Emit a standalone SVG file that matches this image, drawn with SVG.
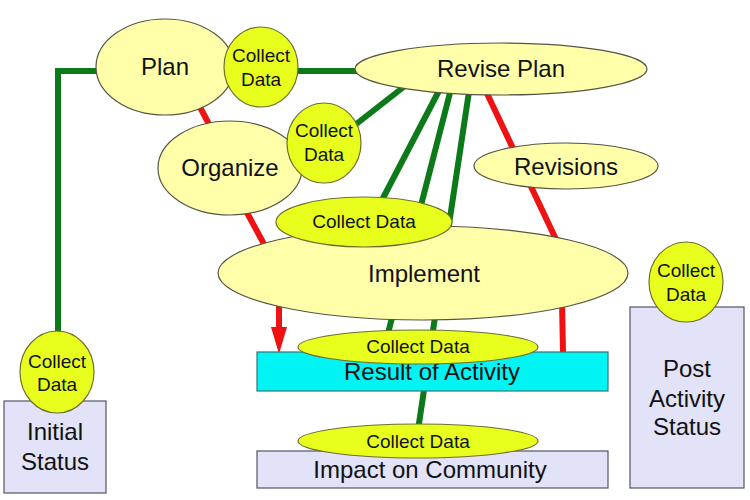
<svg xmlns="http://www.w3.org/2000/svg" width="750" height="500" viewBox="0 0 750 500">
<style>
  .step { fill: #FFFFAA; stroke: #555544; stroke-width: 1.2; }
  .cd { fill: #E8FF1E; stroke: #6E6E30; stroke-width: 1.2; }
  .box { fill: #E2E2F8; stroke: #555566; stroke-width: 1.2; }
  .res { fill: #00F4F4; stroke: #337777; stroke-width: 1.2; }
  text { font-family: "Liberation Sans", Arial, sans-serif; fill: #111; text-anchor: middle; }
  .big { font-size: 24px; }
  .sm { font-size: 19px; }
  .g { stroke: #0C7A18; stroke-width: 6; fill: none; }
  .r { stroke: #F01212; stroke-width: 6; fill: none; }
</style>
<rect width="750" height="500" fill="#ffffff"/>
<g id="connectors">
  <path class="g" d="M380,71 H58 V340"/>
  <path class="g" d="M410,82 L355,125"/>
  <path class="g" d="M442,85 L382,200"/>
  <path class="g" d="M452,85 L385,345"/>
  <path class="g" d="M470,85 L418,430"/>
  <path class="r" d="M192,92 L220,145"/>
  <path class="r" d="M240,200 L270,255"/>
  <path class="r" d="M483,85 L561,250 L563,352"/>
  <path class="r" d="M279,295 V330" stroke-width="5"/>
  <polygon points="271,327 287,327 279,354" fill="#F01212"/>
</g>
<g id="plan">
  <ellipse class="step" cx="165" cy="67" rx="69" ry="48"/>
  <text class="big" x="165" y="75">Plan</text>
</g>
<g id="plan-collect">
  <ellipse class="cd" cx="261" cy="67" rx="37" ry="40"/>
  <text class="sm" x="261" y="62">Collect</text>
  <text class="sm" x="261" y="86">Data</text>
</g>
<g id="revise-plan">
  <ellipse class="step" cx="501" cy="69" rx="146" ry="26"/>
  <text class="big" x="501" y="77">Revise Plan</text>
</g>
<g id="organize">
  <ellipse class="step" cx="230" cy="168" rx="72" ry="47"/>
  <text class="big" x="230" y="176">Organize</text>
</g>
<g id="organize-collect">
  <ellipse class="cd" cx="324" cy="143" rx="37" ry="40"/>
  <text class="sm" x="324" y="137">Collect</text>
  <text class="sm" x="324" y="161">Data</text>
</g>
<g id="revisions">
  <ellipse class="step" cx="566" cy="166" rx="92" ry="23"/>
  <text class="big" x="566" y="175">Revisions</text>
</g>
<g id="implement">
  <ellipse class="step" cx="423" cy="273" rx="205" ry="47"/>
  <text class="big" x="424" y="282">Implement</text>
</g>
<g id="implement-collect">
  <ellipse class="cd" cx="364" cy="222" rx="88" ry="25"/>
  <text class="sm" x="364" y="228">Collect Data</text>
</g>
<g id="result">
  <rect class="res" x="257" y="352" width="351" height="39"/>
  <text class="big" x="432" y="380">Result of Activity</text>
</g>
<g id="result-collect">
  <ellipse class="cd" cx="418" cy="347" rx="120" ry="17"/>
  <text class="sm" x="418" y="353">Collect Data</text>
</g>
<g id="impact">
  <rect class="box" x="257" y="451" width="351" height="37"/>
  <text class="big" x="430" y="478">Impact on Community</text>
</g>
<g id="impact-collect">
  <ellipse class="cd" cx="418" cy="441" rx="120" ry="17"/>
  <text class="sm" x="418" y="448">Collect Data</text>
</g>
<g id="initial-status">
  <rect class="box" x="4" y="401" width="102" height="92"/>
  <text class="big" x="55" y="440">Initial</text>
  <text class="big" x="55" y="470">Status</text>
</g>
<g id="initial-collect">
  <ellipse class="cd" cx="57" cy="372" rx="37" ry="41"/>
  <text class="sm" x="57" y="368">Collect</text>
  <text class="sm" x="57" y="391">Data</text>
</g>
<g id="post-status">
  <rect class="box" x="630" y="307" width="114" height="181"/>
  <text class="big" x="687" y="377">Post</text>
  <text class="big" x="687" y="407">Activity</text>
  <text class="big" x="687" y="435">Status</text>
</g>
<g id="post-collect">
  <ellipse class="cd" cx="686" cy="282" rx="37" ry="40"/>
  <text class="sm" x="686" y="277">Collect</text>
  <text class="sm" x="686" y="301">Data</text>
</g>
</svg>
